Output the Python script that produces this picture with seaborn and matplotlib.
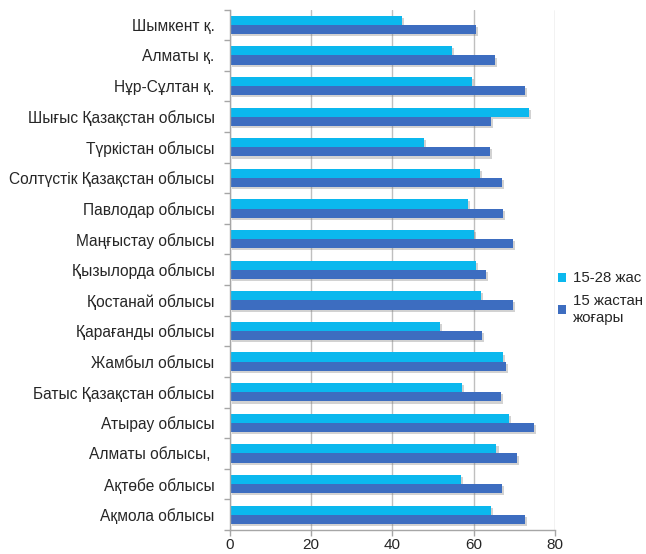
import matplotlib
matplotlib.use("Agg")
import matplotlib.pyplot as plt
import matplotlib.patheffects as pe
from matplotlib.patches import Patch
import numpy as np
import pandas as pd
import seaborn as sns

# Regions, listed top to bottom
regions = [
    "Шымкент қ.",
    "Алматы қ.",
    "Нұр-Сұлтан қ.",
    "Шығыс Қазақстан облысы",
    "Түркістан облысы",
    "Солтүстік Қазақстан облысы",
    "Павлодар облысы",
    "Маңғыстау облысы",
    "Қызылорда облысы",
    "Қостанай облысы",
    "Қарағанды облысы",
    "Жамбыл облысы",
    "Батыс Қазақстан облысы",
    "Атырау облысы",
    "Алматы облысы, ",
    "Ақтөбе облысы",
    "Ақмола облысы",
]

# Values for the two age groups
age_15_28 = [42.3, 54.6, 59.5, 73.7, 47.8, 61.5, 58.5, 60.1, 60.5, 61.7,
             51.8, 67.1, 57.1, 68.6, 65.6, 56.9, 64.2]
age_15_plus = [60.6, 65.2, 72.6, 64.2, 63.9, 67.0, 67.2, 69.7, 63.0, 69.7,
               62.0, 67.9, 66.7, 74.8, 70.6, 67.0, 72.6]

series_names = ["15-28 жас", "15 жастан\nжоғары"]
series_colors = ["#0BB8EE", "#3D6DC0"]
x_ticks = [0, 20, 40, 60, 80]

n = len(regions)
df = pd.DataFrame({
    "region": regions * 2,
    "value": age_15_28 + age_15_plus,
    "group": [series_names[0]] * n + [series_names[1]] * n,
})

sns.set_theme(style="white")
plt.rcParams["font.family"] = ["Liberation Sans", "DejaVu Sans"]
text_color = "#262626"

fig = plt.figure(figsize=(6.46, 5.54), dpi=100)
ax = fig.add_axes([0.356, 0.0433, 0.503, 0.9395])

sns.barplot(
    data=df, x="value", y="region", hue="group",
    order=regions, hue_order=series_names,
    palette=series_colors, saturation=1, width=0.6,
    orient="h", ax=ax, legend=False,
)

# Soft drop shadow under each bar
for bar in ax.patches:
    bar.set_linewidth(0)
    bar.set_path_effects([
        pe.SimplePatchShadow(offset=(1.5, -1.5), shadow_rgbFace="#7f7f7f", alpha=0.35),
        pe.Normal(),
    ])

ax.set_xlim(x_ticks[0], x_ticks[-1])
ax.set_xticks(x_ticks)
ax.set_xticklabels([str(t) for t in x_ticks], fontsize=11, color=text_color)
ax.set_xlabel("")
ax.set_ylabel("")

ax.set_yticks(range(n))
ax.set_yticklabels(regions, fontsize=11.2, color=text_color)
ax.set_yticks(np.arange(-0.5, n, 1.0), minor=True)
ax.tick_params(axis="y", which="major", length=0, pad=11)
ax.tick_params(axis="y", which="minor", length=4, width=1, color="#A6A6A6", left=True)
ax.tick_params(axis="x", which="major", length=4, width=1, color="#A6A6A6", bottom=True, pad=1.5)

ax.xaxis.grid(True, color="#BFBFBF", linewidth=1)
ax.yaxis.grid(False)
ax.set_axisbelow(True)

for side in ["top", "right"]:
    ax.spines[side].set_visible(False)
for side in ["left", "bottom"]:
    ax.spines[side].set_color("#A6A6A6")
    ax.spines[side].set_linewidth(1)

handles = [Patch(facecolor=c, edgecolor="none") for c in series_colors]
ax.legend(
    handles, series_names,
    loc="center left", bbox_to_anchor=(0.864, 0.462), bbox_transform=fig.transFigure,
    frameon=False, fontsize=10.8, labelcolor=text_color,
    handlelength=0.55, handleheight=0.55, handletextpad=0.45,
    labelspacing=0.6, borderpad=0, borderaxespad=0,
)

fig.savefig("out.png", dpi=100)
